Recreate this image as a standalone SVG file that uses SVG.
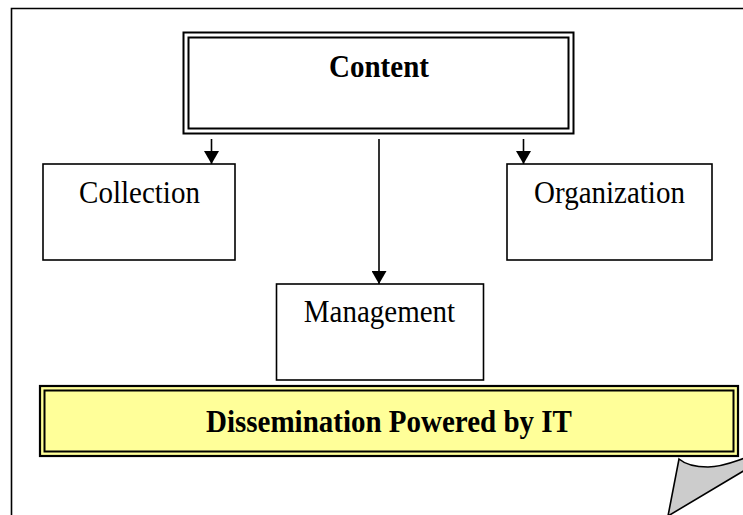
<svg xmlns="http://www.w3.org/2000/svg" width="743" height="515" viewBox="0 0 743 515">
<style>
.frame{fill:none;stroke:#000;stroke-width:1.6}
.box{fill:#fff;stroke:#000;stroke-width:1.6}
.dl{fill:none;stroke:#000;stroke-width:2}
.conn{stroke:#000;stroke-width:1.6;fill:none}
.t{font-family:"Liberation Serif","Times New Roman",serif;font-size:29px;fill:#000;text-anchor:middle}
.b{font-weight:bold}
</style>
<defs>
<marker id="arr" viewBox="0 0 13 15" refX="13" refY="7.5" markerWidth="13" markerHeight="15" markerUnits="userSpaceOnUse" orient="auto">
<path d="M0,0 L13,7.5 L0,15 Z" fill="#000"/>
</marker>
</defs>
<rect width="743" height="515" fill="#fff"/>
<path class="frame" d="M11.5,516 V8.5 H744"/>
<g id="curl">
<path d="M679,459 C686,465 696,467 708,467 C722,467 733,462 745,458 L745,470 L668,516 Z" fill="#cccccc" stroke="#000" stroke-width="1.6" stroke-linejoin="miter"/>
</g>
<g id="connectors">
<line class="conn" x1="211.5" y1="139" x2="211.5" y2="164" marker-end="url(#arr)"/>
<line class="conn" x1="523.5" y1="139" x2="523.5" y2="164" marker-end="url(#arr)"/>
<line class="conn" x1="379" y1="139" x2="379" y2="284" marker-end="url(#arr)"/>
</g>
<g id="content">
<rect class="dl" x="183.5" y="32.5" width="390" height="101" fill="#fff"/>
<rect class="dl" x="188.5" y="37.5" width="380" height="91"/>
<text class="t b" transform="translate(379,77) scale(1,1.08)">Content</text>
</g>
<g id="collection">
<rect class="box" x="43" y="164" width="192" height="96"/>
<text class="t" transform="translate(139.5,203) scale(1,1.06)">Collection</text>
</g>
<g id="organization">
<rect class="box" x="507" y="164" width="205" height="96"/>
<text class="t" transform="translate(609.5,203) scale(1,1.06)">Organization</text>
</g>
<g id="management">
<rect class="box" x="276.5" y="284" width="207" height="96"/>
<text class="t" transform="translate(379.5,322) scale(1,1.06)">Management</text>
</g>
<g id="dissemination">
<rect x="40" y="386" width="698" height="70" fill="#ffff99" stroke="#000" stroke-width="2.2"/>
<rect class="dl" x="44.5" y="390.5" width="689" height="61" stroke-width="2.4"/>
<text class="t b" transform="translate(389,432) scale(1,1.08)">Dissemination Powered by IT</text>
</g>
</svg>
